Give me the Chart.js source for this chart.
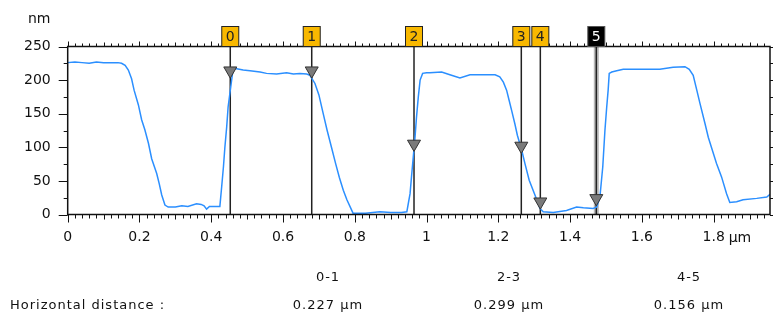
<!DOCTYPE html>
<html>
<head>
<meta charset="utf-8">
<script src="https://cdn.jsdelivr.net/npm/chart.js@4/dist/chart.umd.min.js"></script>
<style>
  body { margin: 0; background: #fff; }
  #wrap { position: relative; width: 773px; height: 320px; }
  #profileChart { position: absolute; left: 0; top: 0; }
  .txt { position: absolute; font: 13px 'DejaVu Sans', sans-serif; letter-spacing: 1px; color: #111; white-space: nowrap; line-height: 14px; }
  .mid { transform: translateX(-50%); }
</style>
</head>
<body>
<div id="wrap">
  <canvas id="profileChart" width="773" height="320"></canvas>
</div>
<script>
// profile: [µm, nm]
const profileX = [
    0.000, 0.020, 0.040, 0.060, 0.080, 0.100, 0.120, 0.140, 0.150, 0.160,
    0.169, 0.178, 0.185, 0.197, 0.206, 0.215, 0.225, 0.234, 0.248, 0.255,
    0.262, 0.271, 0.280, 0.300, 0.318, 0.335, 0.359, 0.372, 0.380, 0.387,
    0.395, 0.410, 0.424, 0.429, 0.434, 0.438, 0.443, 0.447, 0.461, 0.471,
    0.489, 0.508, 0.536, 0.554, 0.582, 0.610, 0.629, 0.647, 0.666, 0.675,
    0.689, 0.700, 0.712, 0.723, 0.735, 0.747, 0.757, 0.768, 0.778, 0.790,
    0.795, 0.830, 0.870, 0.900, 0.930, 0.945, 0.949, 0.954, 0.958, 0.963,
    0.968, 0.972, 0.977, 0.982, 0.989, 1.000, 1.009, 1.042, 1.065, 1.093,
    1.121, 1.158, 1.191, 1.204, 1.214, 1.223, 1.230, 1.237, 1.246, 1.253,
    1.265, 1.274, 1.286, 1.302, 1.316, 1.325, 1.353, 1.390, 1.418, 1.437,
    1.464, 1.474, 1.483, 1.491, 1.497, 1.502, 1.506, 1.509, 1.516, 1.530,
    1.548, 1.585, 1.622, 1.650, 1.687, 1.720, 1.732, 1.743, 1.753, 1.762,
    1.776, 1.785, 1.799, 1.808, 1.822, 1.836, 1.845, 1.864, 1.882, 1.920,
    1.948, 1.957
];
const profileY = [
    226, 227, 226, 225, 227, 226, 226, 226, 225, 222,
    215, 202, 185, 163, 141, 126, 106, 83, 61, 46,
    29, 14, 11, 11, 13, 12, 16, 15, 13, 8,
    12, 12, 12, 41, 71, 100, 130, 160, 217, 217,
    215, 214, 212, 210, 209, 211, 209, 210, 209, 207,
    195, 178, 150, 125, 100, 75, 55, 36, 22, 8,
    2, 2, 4, 3, 3, 4, 16, 31, 56, 86,
    116, 145, 175, 200, 210, 211, 211, 212, 208, 203,
    208, 208, 208, 205, 197, 185, 170, 155, 135, 118,
    96, 76, 51, 29, 9, 4, 3, 6, 11, 10,
    9, 11, 26, 71, 125, 160, 185, 210, 212, 214,
    216, 216, 216, 216, 219, 220, 216, 207, 185, 165,
    135, 115, 91, 76, 56, 31, 18, 19, 22, 24,
    26, 30
];

// cursors 0..5
const cursorIds = ['0', '1', '2', '3', '4', '5'];
const cursorX = [0.453, 0.680, 0.965, 1.264, 1.317, 1.473];
const cursorMarkY = [214, 214, 105, 102, 19, 24];
const activeCursor = 5;

const yTicks = [0, 50, 100, 150, 200, 250];
const xTicks = [0, 0.2, 0.4, 0.6, 0.8, 1, 1.2, 1.4, 1.6, 1.8];
const xTickLabels = ['0', '0.2', '0.4', '0.6', '0.8', '1', '1.2', '1.4', '1.6', '1.8'];

const pairLabels = ['0-1', '2-3', '4-5'];
const pairDistances = ['0.227 µm', '0.299 µm', '0.156 µm'];

const X_MAX = 1.957;
const Y_MAX = 250;
const FONT = "'DejaVu Sans', sans-serif";

const frameAndCursors = {
    id: 'frameAndCursors',
    afterDraw(chart) {
        const { ctx, chartArea: a, scales: { x, y } } = chart;
        ctx.save();
        ctx.strokeStyle = '#111';
        ctx.lineWidth = 1;

        ctx.beginPath();
        for (let i = 0; i * 25 <= Y_MAX; i++) {
            const py = Math.round(y.getPixelForValue(i * 25)) + 0.5;
            const len = i % 2 === 0 ? 9 : 4;
            ctx.moveTo(a.left, py);
            ctx.lineTo(a.left - len, py);
            ctx.moveTo(a.right, py);
            ctx.lineTo(a.right + 4, py);
        }
        for (let i = 0; i * 0.02 <= X_MAX + 1e-9; i++) {
            const px = Math.round(x.getPixelForValue(i * 0.02)) + 0.5;
            const down = i % 10 === 0 ? 8 : (i % 5 === 0 ? 5 : 4);
            const up = i % 10 === 0 ? 5 : (i % 5 === 0 ? 4 : 3);
            ctx.moveTo(px, a.bottom);
            ctx.lineTo(px, a.bottom + down);
            ctx.moveTo(px, a.top);
            ctx.lineTo(px, a.top - up);
        }
        ctx.stroke();

        ctx.lineWidth = 1.5;
        ctx.strokeRect(a.left, a.top, a.right - a.left, a.bottom - a.top);

        ctx.font = '14px ' + FONT;
        ctx.fillStyle = '#111';
        ctx.textBaseline = 'alphabetic';
        ctx.textAlign = 'left';
        ctx.fillText('µm', x.getPixelForValue(1.8) + 15, 242);
        ctx.fillText('nm', 28, 23);

        ctx.textAlign = 'center';
        ctx.textBaseline = 'middle';
        cursorX.forEach((cx, i) => {
            const px = x.getPixelForValue(cx);
            const active = i === activeCursor;
            ctx.fillStyle = active ? '#000' : '#f8b800';
            ctx.fillRect(px - 8.5, a.top - 20, 17, 20);
            ctx.lineWidth = 1;
            ctx.strokeStyle = active ? '#555' : '#222';
            ctx.strokeRect(px - 8.5, a.top - 20, 17, 20);
            ctx.fillStyle = active ? '#fff' : '#222';
            ctx.fillText(cursorIds[i], px, a.top - 9.5);
        });
        ctx.restore();
    }
};

const cursorSets = [];
cursorX.forEach((cx, i) => {
    if (i === activeCursor) {
        cursorSets.push({
            data: [{ x: cx, y: 0 }, { x: cx, y: Y_MAX }],
            borderColor: '#b8b8b8',
            borderWidth: 5,
            pointRadius: 0,
            order: 4,
        });
    }
    cursorSets.push({
        data: [{ x: cx, y: 0 }, { x: cx, y: Y_MAX }],
        borderColor: '#222',
        borderWidth: 1.5,
        pointRadius: 0,
        order: 3,
    });
});

const ctx = document.getElementById('profileChart').getContext('2d');
new Chart(ctx, {
    type: 'line',
    data: {
        datasets: [
            {
                data: cursorX.map((cx, i) => ({ x: cx, y: cursorMarkY[i] })),
                showLine: false,
                pointStyle: 'triangle',
                rotation: 180,
                pointRadius: 7.5,
                backgroundColor: '#7a7a7a',
                borderColor: '#333',
                borderWidth: 1,
                order: 0,
            },
            {
                data: profileX.map((v, i) => ({ x: v, y: profileY[i] })),
                borderColor: '#2b8fff',
                borderWidth: 1.5,
                pointRadius: 0,
                tension: 0,
                order: 1,
            },
            ...cursorSets,
        ],
    },
    options: {
        responsive: false,
        animation: false,
        events: [],
        layout: { autoPadding: false, padding: { left: 0, right: 3, top: 46.5, bottom: 0 } },
        plugins: { legend: { display: false }, tooltip: { enabled: false } },
        scales: {
            x: {
                type: 'linear',
                min: 0,
                max: X_MAX,
                grid: { display: false, drawTicks: false },
                border: { display: false },
                afterBuildTicks: scale => { scale.ticks = xTicks.map(v => ({ value: v })); },
                afterFit: scale => {
                    scale.height = 105.5;
                    scale.paddingLeft = 0;
                    scale.paddingRight = 0;
                },
                ticks: {
                    autoSkip: false,
                    maxRotation: 0,
                    padding: 14,
                    color: '#111',
                    font: { family: FONT, size: 14 },
                    callback: (v, i) => xTickLabels[i],
                },
            },
            y: {
                min: 0,
                max: Y_MAX,
                grid: { display: false, drawTicks: false },
                border: { display: false },
                afterBuildTicks: scale => { scale.ticks = yTicks.map(v => ({ value: v })); },
                afterFit: scale => {
                    scale.width = 67.7;
                    scale.paddingTop = 0;
                    scale.paddingBottom = 0;
                },
                ticks: {
                    padding: 17,
                    color: '#111',
                    font: { family: FONT, size: 14 },
                },
            },
        },
    },
    plugins: [frameAndCursors],
});

const wrap = document.getElementById('wrap');
const colX = [328, 509, 689];
function addText(text, left, top, centred) {
    const el = document.createElement('div');
    el.className = centred ? 'txt mid' : 'txt';
    el.textContent = text;
    el.style.left = left + 'px';
    el.style.top = top + 'px';
    wrap.appendChild(el);
}
addText('Horizontal distance :', 10, 298, false);
pairLabels.forEach((label, i) => {
    addText(label, colX[i], 270, true);
    addText(pairDistances[i], colX[i], 298, true);
});
</script>
</body>
</html>
